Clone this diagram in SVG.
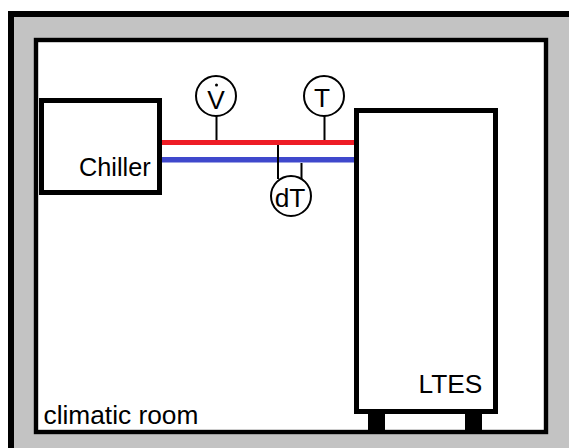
<svg xmlns="http://www.w3.org/2000/svg" width="569" height="448" viewBox="0 0 569 448">
<style>
.t{font-family:"Liberation Sans",Arial,sans-serif;font-size:26.3px;fill:#000}
.box{fill:#fff;stroke:#000;stroke-width:5}
.c{fill:#fff;stroke:#000;stroke-width:2}
.l{stroke:#000;stroke-width:2;fill:none}
</style>
<rect width="569" height="448" fill="#fff"/>
<g id="wall">
<rect x="11" y="14" width="570" height="450" fill="#c3c3c3" stroke="#000" stroke-width="6"/>
</g>
<g id="room">
<rect x="36" y="40" width="510" height="392" fill="#fff" stroke="#000" stroke-width="4.4"/>
<text class="t" x="43.500" y="424">climatic room</text>
</g>
<g id="connectors">
<rect x="160" y="140" width="195" height="5" fill="#ee1c25"/>
<rect x="160" y="157" width="195" height="5.500" fill="#3f48cc"/>
<path class="l" d="M216.500 116V140M324.500 116V140M278 145V179M301.500 163V182"/>
</g>
<g id="chiller">
<rect class="box" x="41.500" y="100.500" width="118" height="92"/>
<text class="t" x="79" y="176" style="font-size:25.3px">Chiller</text>
</g>
<g id="ltes">
<rect x="368" y="412" width="17" height="19" fill="#000"/>
<rect x="465" y="412" width="17" height="19" fill="#000"/>
<rect class="box" x="356.500" y="110.500" width="139" height="301"/>
<text class="t" x="418.500" y="393">LTES</text>
</g>
<g id="sensor-v">
<circle class="c" cx="216" cy="96" r="20"/>
<circle cx="216.500" cy="85" r="1.500" fill="#000"/>
<text class="t" x="216" y="109" text-anchor="middle">V</text>
</g>
<g id="sensor-t">
<circle class="c" cx="324" cy="96" r="20"/>
<text class="t" x="322" y="107" text-anchor="middle">T</text>
</g>
<g id="sensor-dt">
<circle class="c" cx="291" cy="196" r="20"/>
<text class="t" x="290" y="207" text-anchor="middle">dT</text>
</g>
</svg>
